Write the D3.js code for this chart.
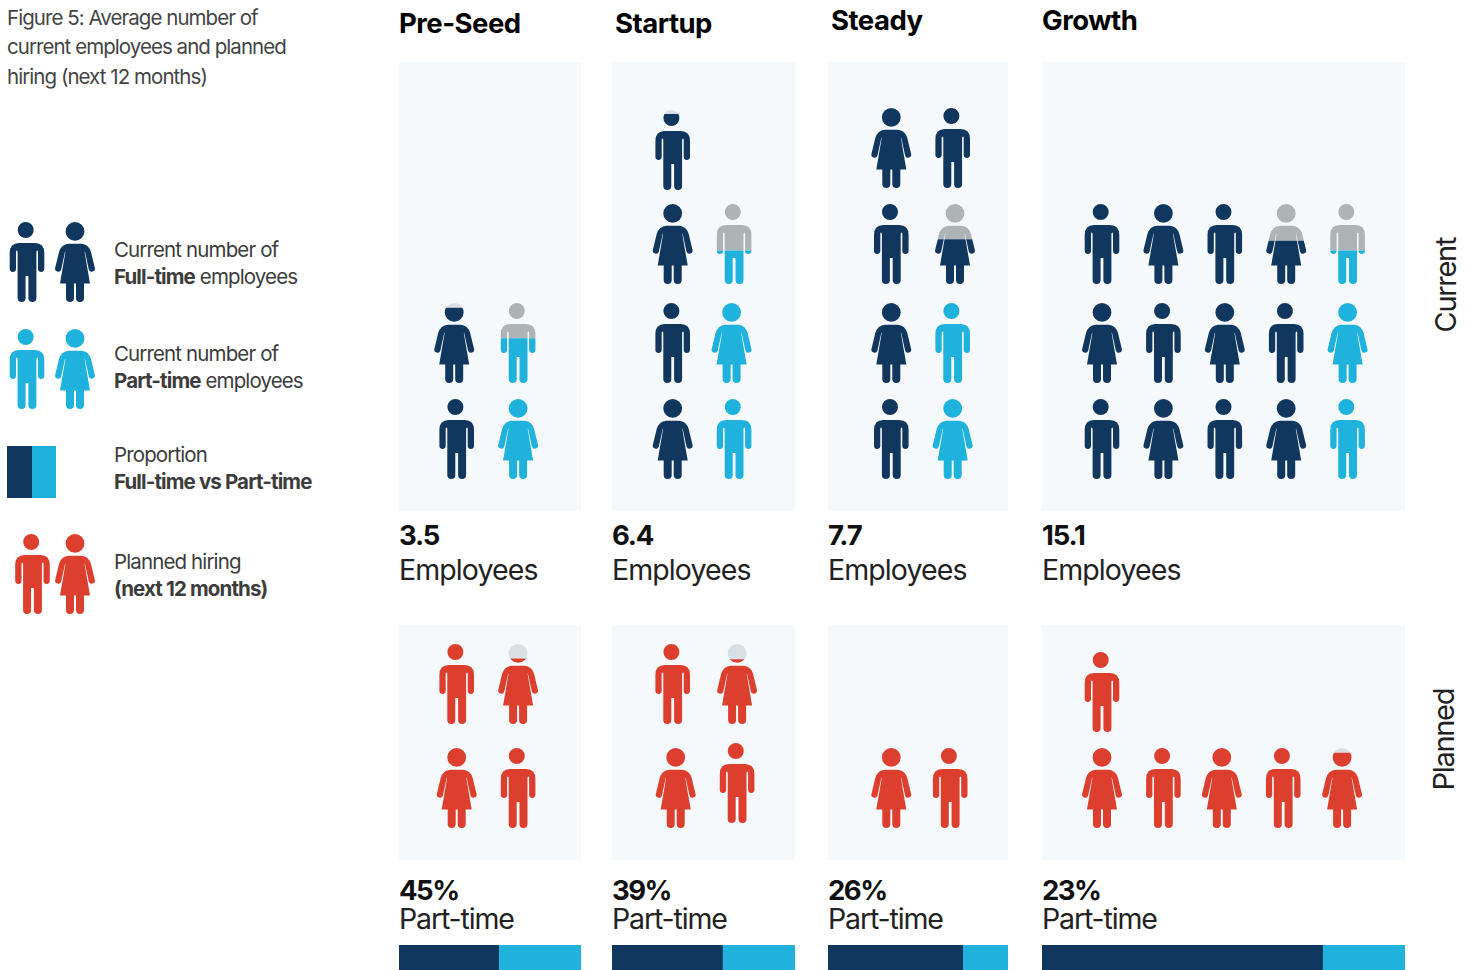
<!DOCTYPE html>
<html><head><meta charset="utf-8">
<script src="https://cdn.jsdelivr.net/npm/d3@7"></script>
<style>html,body{margin:0;padding:0;background:#fff;overflow:hidden}svg{display:block}text{font-family:Inter,"Liberation Sans",sans-serif}</style>
</head><body><svg id="c" width="1473" height="970"></svg>
<script>
// ---- values ----
const stages=["Pre-Seed","Startup","Steady","Growth"];
const employees=["3.5","6.4","7.7","15.1"];
const partTimePct=[45,39,26,23];
const barPartShare=[45,39.4,25,22.6]; // widths
const rowLabels=["Current","Planned"];
const titleLines=["Figure 5: Average number of","current employees and planned","hiring (next 12 months)"];
// icon = [figure, top kind, bottom kind, share of the height in the top kind]
const F=g=>[g,"full","full",0], P=g=>[g,"part","part",0], R=g=>[g,"plan","plan",0];
const preSeedCurrent=[[F("m"),P("w")],[["w","blank","full",.06],["m","grey","part",.44]]];
const startupCurrent=[[F("w"),P("m")],[F("m"),P("w")],[F("w"),["m","grey","part",.58]],[["m","blank","full",.05]]];
const steadyCurrent=[[F("m"),P("w")],[F("w"),P("m")],[F("m"),["w","grey","full",.44]],[F("w"),F("m")]];
const growthCurrent=[
 [F("m"),F("w"),F("m"),F("w"),P("m")],
 [F("w"),F("m"),F("w"),F("m"),P("w")],
 [F("m"),F("w"),F("m"),["w","grey","full",.46],["m","grey","part",.58]]];
const preSeedPlanned=[[R("w"),R("m")],[R("m"),["w","blank","plan",.18]]];
const startupPlanned=[[R("w"),R("m")],[R("m"),["w","blank","plan",.19]]];
const steadyPlanned=[[R("w"),R("m")]];
const growthPlanned=[[R("w"),R("m"),R("w"),R("m"),["w","blank","plan",.06]],[R("m")]];
const currentIcons=[preSeedCurrent,startupCurrent,steadyCurrent,growthCurrent];
const plannedIcons=[preSeedPlanned,startupPlanned,steadyPlanned,growthPlanned];
// ---- layout & styles ----
const kindColor={full:"#12375f",part:"#1fb2dd",plan:"#dd3f2f",grey:"#aeb4b6",blank:"#d8dfe5"};
const panelBg="#f5f9fc";
const panelX=[[399,581],[612,795],[828,1008],[1042,1405]];
const headX=[399,615,831,1042], headY=[33,33,30,30];
const firstCol=[456.7,672.7,891.3,1102], colStep=61.4;
const nudges={ // hand-placement drift of single pictograms in the original
 "c-0-1-0":[-2.5,0],"c-1-3-0":[0,2],"c-1-1-1":[-2.5,0],"c-2-2-1":[2.3,0],
 "p-1-0-0":[3,0],"p-1-0-1":[3,-5],"p-1-1-1":[3,0],"p-2-0-1":[-2.5,0],
 "p-3-0-2":[-3,0],"p-3-0-3":[-3,0],"p-3-0-4":[-5.5,0],"p-3-1-0":[0,8]};
const rowTopCurrent=d3.scaleOrdinal([0,1,2,3],[399,303,204,108]);
const rowTopPlanned=d3.scaleOrdinal([0,1],[748,644]);
const iconH=d3.scaleLinear([0,1],[0,80]);
const man="M-9.3,8 a8,8 0 1,0 16,0 a8,8 0 1,0 -16,0Z M-8,21 H8 Q17.3,21 17.3,31 V46.8 A3.15,3.15 0 0 1 11,46.8 V30 Q11,28.5 10.5,28.5 Q9.4,28.5 9.4,30 V76 A4,4 0 0 1 1.4,76 V54 H-1.4 V76 A4,4 0 0 1 -9.4,76 V30 Q-9.4,28.5 -10.5,28.5 Q-11,28.5 -11,30 V46.8 A3.15,3.15 0 0 1 -17.3,46.8 V31 Q-17.3,21 -8,21Z";
const woman="M-9.4,9.4 a9.4,9.4 0 1,0 18.8,0 a9.4,9.4 0 1,0 -18.8,0Z M-6.5,21.7 H6.5 Q13.5,22 16,30 L19.8,45.8 A3.1,3.1 0 0 1 13.8,47.4 L9.9,29.4 L9.6,30 L15,61.6 H9 V76 A4,4 0 0 1 1,76 V61.6 H-1 V76 A4,4 0 0 1 -9,76 V61.6 H-15 L-9.6,30 L-9.9,29.4 L-13.8,47.4 A3.1,3.1 0 0 1 -19.8,45.8 L-16,30 Q-13.5,22 -6.5,21.7Z";
const figure={m:man,w:woman};

const svg=d3.select("#c");
const defs=svg.append("defs");
let clipN=0;
function drawIcon(parent,x,y,ic){
  const [g,top,bottom,share]=ic;
  const n=parent.append("g").attr("transform",`translate(${x},${y})`);
  if(top===bottom||!share){n.append("path").attr("d",figure[g]).attr("fill",kindColor[bottom]);return;}
  const h=iconH(share), id="cl"+(clipN++);
  defs.append("clipPath").attr("id",id+"a").append("rect").attr("x",-30).attr("y",-2).attr("width",60).attr("height",h+2);
  defs.append("clipPath").attr("id",id+"b").append("rect").attr("x",-30).attr("y",h).attr("width",60).attr("height",90-h);
  n.append("path").attr("d",figure[g]).attr("fill",kindColor[top]).attr("clip-path",`url(#${id}a)`);
  n.append("path").attr("d",figure[g]).attr("fill",kindColor[bottom]).attr("clip-path",`url(#${id}b)`);
}
function label(x,y,parts,size,ls,fill){
  const t=svg.append("text").attr("x",x).attr("y",y).attr("font-size",size).attr("letter-spacing",ls).attr("fill",fill||"#3c3c3c");
  parts.forEach(p=>t.append("tspan").attr("font-weight",p[1]?700:400).text(p[0]));
  return t;
}
// title
titleLines.forEach((s,i)=>label(7,d3.scaleLinear([0,1],[24.5,54])(i),[[s]],20.5,-0.95,"#444"));
// legend
drawIcon(svg,27,222,F("m")); drawIcon(svg,75,222,F("w"));
drawIcon(svg,27,329,P("m")); drawIcon(svg,75,329,P("w"));
drawIcon(svg,32.5,534,R("m")); drawIcon(svg,75,534,R("w"));
svg.append("rect").attr("x",7).attr("y",446).attr("width",25).attr("height",52).attr("fill",kindColor.full);
svg.append("rect").attr("x",32).attr("y",446).attr("width",24).attr("height",52).attr("fill",kindColor.part);
const LS=-0.87, LF=20.5;
label(114,257,[["Current number of"]],LF,LS);
label(114,284,[["Full-time",1],[" employees"]],LF,LS);
label(114,361,[["Current number of"]],LF,LS);
label(114,388,[["Part-time",1],[" employees"]],LF,LS);
label(114,462,[["Proportion"]],LF,LS);
label(114,489,[["Full-time vs Part-time",1]],LF,LS);
label(114,569,[["Planned hiring"]],LF,LS);
label(114,596,[["(next 12 months)",1]],LF,LS);
// panels
stages.forEach((s,i)=>{
  const [x0,x1]=panelX[i];
  label(headX[i],headY[i],[[s,1]],27.5,-0.5,"#000");
  svg.append("rect").attr("x",x0).attr("y",62).attr("width",x1-x0).attr("height",449).attr("fill",panelBg);
  svg.append("rect").attr("x",x0).attr("y",625).attr("width",x1-x0).attr("height",235).attr("fill",panelBg);
  const col=d3.scaleLinear([0,1],[firstCol[i],firstCol[i]+colStep]);
  const put=(rows,rowTop,key)=>rows.forEach((row,r)=>row.forEach((ic,c)=>{
    const nd=nudges[`${key}-${i}-${r}-${c}`]||[0,0];
    drawIcon(svg,col(c)+nd[0],rowTop(r)+nd[1],ic);
  }));
  put(currentIcons[i],rowTopCurrent,"c");
  put(plannedIcons[i],rowTopPlanned,"p");
  label(x0,545,[[employees[i],1]],27.5,-1.2,"#111");
  label(x0,580,[["Employees"]],28.5,-0.9,"#222");
  label(x0,900,[[partTimePct[i]+"%",1]],27.5,-1.5,"#111");
  label(x0,929,[["Part-time"]],28.5,-1.15,"#222");
  const bar=d3.scaleLinear([0,100],[x0,x1]);
  const cut=100-barPartShare[i];
  svg.append("rect").attr("x",bar(0)).attr("y",945).attr("width",bar(cut)-bar(0)).attr("height",25).attr("fill",kindColor.full);
  svg.append("rect").attr("x",bar(cut)).attr("y",945).attr("width",bar(100)-bar(cut)).attr("height",25).attr("fill",kindColor.part);
});
// side labels
[[1456,332.5],[1454,790.5]].forEach((p,i)=>{
  svg.append("text").attr("transform",`translate(${p[0]},${p[1]}) rotate(-90)`).attr("font-size",29).attr("letter-spacing",-1.3).attr("fill","#222").text(rowLabels[i]);
});
</script></body></html>
